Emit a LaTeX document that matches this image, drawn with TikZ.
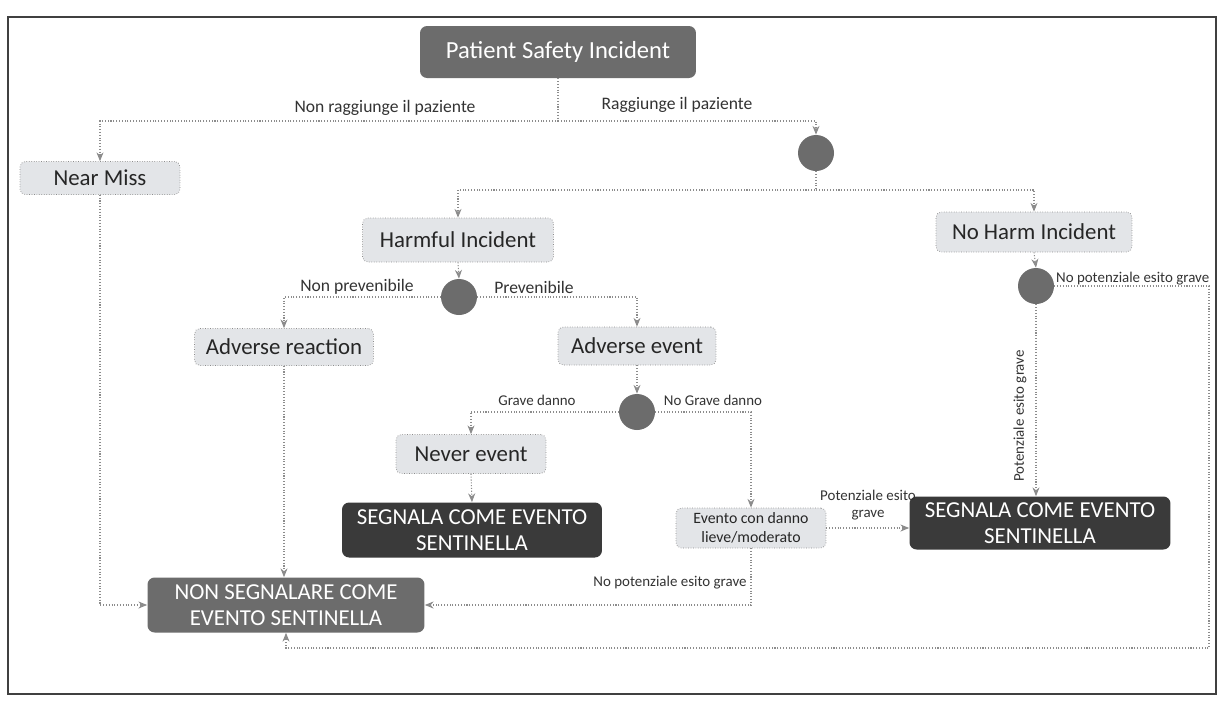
\documentclass[tikz,border=0pt]{standalone}
\usepackage{fontspec}
\setmainfont{Carlito}
\usetikzlibrary{positioning, calc, arrows.meta}

\definecolor{boxgray}{HTML}{E3E5E8}
\definecolor{darkbox}{HTML}{3A3A3A}
\definecolor{midbox}{HTML}{6C6C6C}
\definecolor{linegray}{HTML}{8C8C8C}

\begin{document}
\begin{tikzpicture}[x=0.02cm, y=-0.02cm,
  state/.style={rectangle, rounded corners=3pt, draw=linegray, densely dotted, fill=boxgray,
    text=black!85, inner sep=1pt, font=\fontsize{13}{15}\selectfont},
  report/.style={rectangle, rounded corners=4pt, fill=darkbox, text=white, align=center,
    inner sep=1pt, font=\fontsize{13}{15}\selectfont},
  decision/.style={circle, fill=midbox, minimum size=0.72cm, inner sep=0pt},
  lbl/.style={text=black!80, font=\fontsize{10}{12}\selectfont, inner sep=1pt},
  small/.style={text=black!80, font=\fontsize{8.5}{9.5}\selectfont, inner sep=1pt, align=center},
  flow/.style={draw=linegray, densely dotted, line width=0.6pt},
  >={Stealth[length=5pt,width=4pt]}
]
\useasboundingbox (0,0) rectangle (1228,701);
\fill[white] (0,0) rectangle (1228,701);
\draw[black!75, line width=1.2pt] (8,17) rectangle (1216,694);

% top level
\node[report, fill=midbox, minimum width=5.52cm, minimum height=1.04cm, font=\fontsize{14}{16}\selectfont] (psi) at (558,52) {Patient Safety Incident};
\node[state, minimum width=3.2cm, minimum height=0.66cm] (nearmiss) at (100,178) {Near Miss};
\node[decision] (dec1) at (816,153) {};
\coordinate (split1) at (558,121);
\coordinate (split2) at (816,190);
\node[lbl] (lblnon) at (385,108) {Non raggiunge il paziente};
\node[lbl] (lblrag) at (677,105) {Raggiunge il paziente};
\draw[flow, ->] (psi.south) -- (split1) -| (nearmiss.north);
\draw[flow, ->] (split1) -| (dec1.north);

% harmful / no harm
\node[state, minimum width=3.82cm, minimum height=0.88cm] (harmful) at (458,240) {Harmful Incident};
\node[state, minimum width=3.92cm, minimum height=0.8cm] (noharm) at (1034,232) {No Harm Incident};
\draw[flow, ->] (dec1.south) -- (split2) -| (harmful.north);
\draw[flow, ->] (split2) -| (noharm.north);

\node[decision] (dec2) at (459,297) {};
\node[lbl] (lblnonprev) at (357,287) {Non prevenibile};
\node[lbl] (lblprev) at (534,287) {Prevenibile};
\node[state, minimum width=3.58cm, minimum height=0.74cm] (advreact) at (284,347) {Adverse reaction};
\node[state, minimum width=3.16cm, minimum height=0.76cm] (advevent) at (637,346) {Adverse event};
\draw[flow, ->] (harmful.south) -- (dec2.north);
\draw[flow, ->] (dec2.west) -| (advreact.north);
\draw[flow, ->] (dec2.east) -| (advevent.north);

\node[decision] (dec3) at (637,412) {};
\node[small] (lblgrave) at (537,400) {Grave danno};
\node[small] (lblnograve) at (713,400) {No Grave danno};
\node[state, minimum width=3.0cm, minimum height=0.78cm] (never) at (471,454) {Never event};
\node[state, minimum width=3.0cm, minimum height=0.8cm, align=center, font=\fontsize{9}{10.5}\selectfont] (evento) at (751,528) {Evento con danno\\lieve/moderato};
\draw[flow, ->] (advevent.south) -- (dec3.north);
\draw[flow, ->] (dec3.west) -| (never.north);
\draw[flow, ->] (dec3.east) -| (evento.north);

% outcomes
\node[report, minimum width=5.2cm, minimum height=1.1cm] (segnala1) at (472,530) {SEGNALA COME EVENTO\\SENTINELLA};
\node[report, minimum width=5.22cm, minimum height=1.06cm] (segnala2) at (1040,523) {SEGNALA COME EVENTO\\SENTINELLA};
\node[report, fill=midbox, minimum width=5.54cm, minimum height=1.1cm] (nonseg) at (286,605) {NON SEGNALARE COME\\EVENTO SENTINELLA};
\draw[flow, ->] (never.south) -- (segnala1.north);
\draw[flow, ->] (evento.east) -- (evento.east -| segnala2.west);
\node[small] (lblpotenz) at (868,505) {Potenziale esito\\grave};

% no harm branch
\node[decision] (dec4) at (1036,286) {};
\node[small, anchor=west] (lblnopot1) at (1054,279) {No potenziale esito grave};
\node[small, rotate=90] (lblpot) at (1020,416) {Potenziale esito grave};
\coordinate (loopR) at (1209,648);
\draw[flow, ->] (noharm.south) -- (dec4.north);
\draw[flow, ->] (dec4.south) -- (dec4.south |- segnala2.north);
\draw[flow, ->] (dec4.east) -| (loopR) -| (nonseg.south);

% into non segnalare
\draw[flow, ->] (nearmiss.south) |- (nonseg.west);
\draw[flow, ->] (advreact.south) -- (advreact.south |- nonseg.north);
\draw[flow, ->] (evento.south) |- (nonseg.east);
\node[small] (lblnopot2) at (670,583) {No potenziale esito grave};
\end{tikzpicture}
\end{document}
